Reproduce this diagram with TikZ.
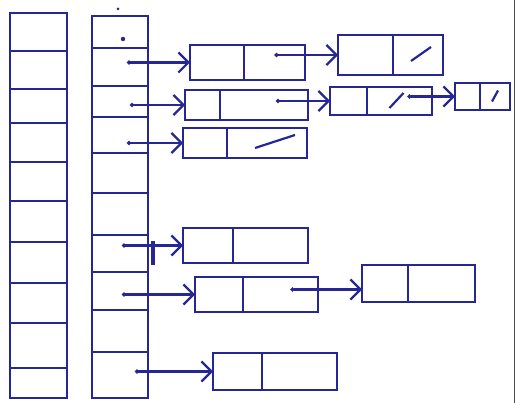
\documentclass[tikz,border=0pt]{standalone}
\usetikzlibrary{arrows.meta, positioning, calc}
\definecolor{ink}{RGB}{38,38,148}

\begin{document}
\begin{tikzpicture}[x=1pt, y=-1pt, line width=2.6pt, >=Stealth]
  % Define styles
  \tikzstyle{slot} = [rectangle, draw=ink, minimum width=57pt, inner sep=0pt, outer sep=0pt]
  \tikzstyle{cell} = [rectangle, draw=ink, inner sep=0pt, outer sep=0pt]
  \tikzstyle{ptr} = [draw=ink, line width=2.2pt, {Circle[length=4pt]}-{Straight Barb[length=10pt,width=20pt]}]
  \tikzstyle{nil} = [draw=ink, line width=2.2pt]

  \useasboundingbox (0,0) rectangle (519,403);

  % Arrays
  \foreach \t/\b [count=\i] in {13/51,51/89,89/123,123/162,162/201,201/242,242/283,283/323,323/368,368/398}
    \node[slot, minimum height={(\b-\t)*1pt}] (l\i) at (38.5,{(\t+\b)/2}) {};
  \foreach \t/\b [count=\i] in {16/48,48/86,86/117,117/153,153/193,193/235,235/272,272/310,310/352,352/398}
    \node[slot, minimum width=56pt, minimum height={(\b-\t)*1pt}] (r\i) at (120,{(\t+\b)/2}) {};

  % Place list nodes
  \node[cell, minimum width=54pt, minimum height=35pt] (a1) at (217,62.5) {};
  \node[cell, minimum width=61pt, minimum height=35pt, right=0pt of a1] (a1n) {};
  \node[cell, minimum width=55pt, minimum height=40pt] (a2) at (365.5,55) {};
  \node[cell, minimum width=50pt, minimum height=40pt, right=0pt of a2] (a2n) {};

  \node[cell, minimum width=35pt, minimum height=30pt] (b1) at (202.5,105) {};
  \node[cell, minimum width=88pt, minimum height=30pt, right=0pt of b1] (b1n) {};
  \node[cell, minimum width=37pt, minimum height=28pt] (b2) at (348.5,101) {};
  \node[cell, minimum width=65pt, minimum height=28pt, right=0pt of b2] (b2n) {};
  \node[cell, minimum width=25pt, minimum height=27pt] (b3) at (467.5,96.5) {};
  \node[cell, minimum width=30pt, minimum height=27pt, right=0pt of b3] (b3n) {};

  \node[cell, minimum width=44pt, minimum height=30pt] (c1) at (205,143) {};
  \node[cell, minimum width=80pt, minimum height=30pt, right=0pt of c1] (c1n) {};

  \node[cell, minimum width=50pt, minimum height=35pt] (d1) at (208,245.5) {};
  \node[cell, minimum width=75pt, minimum height=35pt, right=0pt of d1] (d1n) {};

  \node[cell, minimum width=48pt, minimum height=35pt] (e1) at (219,294.5) {};
  \node[cell, minimum width=75pt, minimum height=35pt, right=0pt of e1] (e1n) {};
  \node[cell, minimum width=46pt, minimum height=37pt] (e2) at (385,283.5) {};
  \node[cell, minimum width=67pt, minimum height=37pt, right=0pt of e2] (e2n) {};

  \node[cell, minimum width=49pt, minimum height=37pt] (f1) at (237.5,371.5) {};
  \node[cell, minimum width=75pt, minimum height=37pt, right=0pt of f1] (f1n) {};

  % Draw pointers
  \path[ptr] ($(a1.west -| r2.center)+(7,0)$) -- (a1.west);
  \path[ptr] ($(b1.west -| r3.center)+(10,0)$) -- (b1.west);
  \path[ptr] ($(c1.west -| r4.center)+(7,0)$) -- (c1.west);
  \path[ptr] ($(d1.west -| r7.center)+(2,0)$) -- (d1.west);
  \path[ptr] ($(e1.west -| r8.center)+(2,0)$) -- (e1.west);
  \path[ptr] ($(f1.west -| r10.center)+(15,0)$) -- (f1.west);
  \path[ptr] (a2.west -| a1n.center) -- (a2.west);
  \path[ptr] ($(b2.west -| b1n.center)+(12,0)$) -- (b2.west);
  \path[ptr] ($(b3.west -| b2n.center)+(8,0)$) -- (b3.west);
  \path[ptr] ($(e2.west -| e1n.center)+(10,6)$) -- ($(e2.west)+(0,6)$);

  % Null links
  \path[nil] ([shift={(-7,6)}]a2n.center) -- ([shift={(13,-8)}]a2n.center);
  \path[nil] ([shift={(-10,7)}]b2n.center) -- ([shift={(4,-8)}]b2n.center);
  \path[nil] ([shift={(-3,5)}]b3n.center) -- ([shift={(3,-6)}]b3n.center);
  \path[nil] ([shift={(-12,5)}]c1n.center) -- ([shift={(28,-8)}]c1n.center);
  \draw[ink, line width=3.5pt] ([shift={(5,-12)}]r7.east) -- ([shift={(5,12)}]r7.east);

  % Stray marks
  \fill[ink] (118,9) circle (1.5pt);
  \fill[ink] (123,39) circle (2.2pt);
  \draw[black!70, line width=1pt] (514,0) -- (514,403);
\end{tikzpicture}
\end{document}
